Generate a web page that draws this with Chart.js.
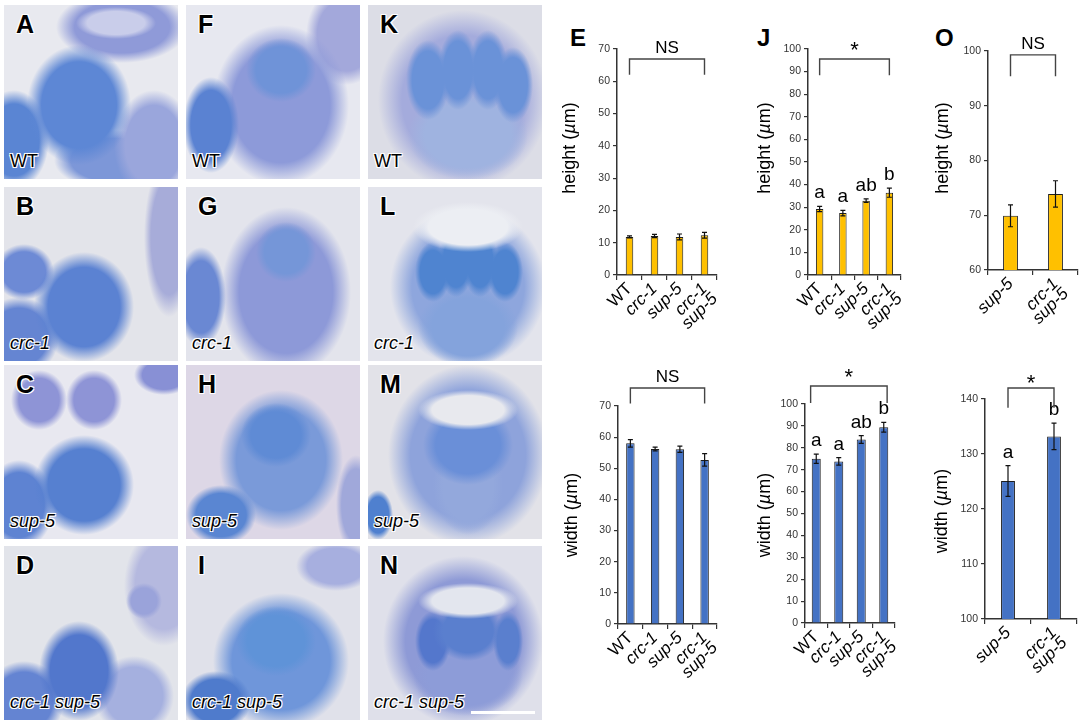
<!DOCTYPE html>
<html><head><meta charset="utf-8">
<script src="https://cdn.jsdelivr.net/npm/chart.js@4.4.0/dist/chart.umd.min.js"></script>
<style>
html,body{margin:0;padding:0;background:#fff;width:1084px;height:725px;overflow:hidden;font-family:"Liberation Sans",Arial,sans-serif;}
.panel{position:absolute;width:174px;height:174px;overflow:hidden;}
.plab{position:absolute;left:12px;top:7px;font-weight:bold;font-size:25px;line-height:1;color:#000;
 text-shadow:0 0 2px #fff,1px 1px 0 #fff,-1px -1px 0 #fff,1px -1px 0 #fff,-1px 1px 0 #fff;}
.glab{position:absolute;left:6px;top:147px;font-size:18px;line-height:1;color:#000;white-space:nowrap;
 text-shadow:0 0 2px #fff,1px 1px 0 #fff,-1px -1px 0 #fff,1px -1px 0 #fff,-1px 1px 0 #fff;}
.glab i{font-style:italic;}
.fig{position:absolute;font-weight:bold;font-size:24px;line-height:1;color:#000;}
canvas{position:absolute;}
.sbar{position:absolute;left:471px;top:711px;width:64px;height:3px;background:#fff;}
</style></head>
<body>
<div id="panels"></div>
<div class="fig" style="left:570px;top:26px">E</div>
<div class="fig" style="left:757px;top:26px">J</div>
<div class="fig" style="left:935px;top:26px">O</div>
<canvas id="cEh"></canvas><canvas id="cJh"></canvas><canvas id="cOh"></canvas>
<canvas id="cEw"></canvas><canvas id="cJw"></canvas><canvas id="cOw"></canvas>
<div class="sbar"></div>
<script>
// ---------- data ----------
const genotypes4 = ['WT', 'crc-1', 'sup-5', ['crc-1', 'sup-5']];
const genotypes2 = ['sup-5', ['crc-1', 'sup-5']];

const heightE = [11.8, 12.1, 11.8, 12.3];
const heightEErr = [0.3, 0.5, 0.9, 0.9];
const widthE = [58.0, 56.2, 56.1, 52.7];
const widthEErr = [1.2, 0.6, 1.0, 2.0];

const heightJ = [29.2, 27.4, 32.9, 36.4];
const heightJErr = [1.2, 1.2, 0.8, 2.0];
const widthJ = [75.0, 73.8, 83.8, 89.4];
const widthJErr = [2.1, 1.7, 1.8, 2.2];

const heightO = [69.9, 73.9];
const heightOErr = [2.0, 2.4];
const widthO = [125.1, 133.2];
const widthOErr = [2.8, 2.4];

const lettersJ = ['a', 'a', 'ab', 'b'];
const lettersO = ['a', 'b'];

const yTicksE = [0, 70];
const yTicksJ = [0, 100];
const yTicksOh = [60, 100];
const yTicksOw = [100, 140];

// significance brackets: [label, fromIndex, toIndex, topValue, endValue]
const sigEh = ['NS', 0, 3, 66.9, 62];
const sigJh = ['*', 0, 3, 95.6, 88.4];
const sigOh = ['NS', 0, 1, 99.3, 95.4];
const sigEw = ['NS', 0, 3, 75.8, 70.8];
const sigJw = ['*', -0.25, 3.15, 108.2, 100.5];
const sigOw = ['*', 0, 1, 142, 138.4];

// ---------- image panels (decorative) ----------
const FONT = '"Liberation Sans", Arial, sans-serif';
const panelDefs = [
 ['A','WT',4,5,'#e8e9ef',[[110,155,60,30,'#7d97d8'],[118,22,66,36,'#8f9ad8'],[150,140,40,55,'#9aa6dc'],[10,135,35,50,'#5a85d3'],[75,100,52,60,'#5d87d5']],[[112,18,40,16,'#c9cdea']]],
 ['B','crc-1',4,187,'#e3e4ea',[[165,50,25,80,'#a7acd9'],[15,150,40,40,'#6585d2'],[20,85,30,28,'#6d8ad5'],[80,120,50,55,'#5b82d2']],[]],
 ['C','sup-5',4,365,'#e8e8f0',[[160,10,30,20,'#8890d5'],[35,35,28,30,'#8e94d6'],[90,35,28,30,'#8e94d6'],[15,140,35,45,'#5e83d2'],[80,120,50,50,'#5680d0']],[]],
 ['D','crc-1 sup-5',4,546,'#e2e4ea',[[160,40,40,60,'#b5b9df'],[130,150,40,40,'#a5b0df'],[140,55,18,18,'#9aa3da'],[20,155,40,40,'#6484d2'],[75,125,40,50,'#5277cc']],[]],
 ['F','WT',186,5,'#e7e8f0',[[160,30,40,50,'#a3a8db'],[95,100,68,80,'#8d9ad9'],[25,120,28,48,'#5a82d2'],[95,65,35,32,'#6f93d8']],[]],
 ['G','crc-1',186,187,'#e3e4ec',[[100,105,65,85,'#8d99d8'],[15,110,25,50,'#6a88d3'],[100,65,30,30,'#7596d8']],[]],
 ['H','sup-5',186,365,'#ddd7e6',[[170,140,20,50,'#a0a8da'],[95,95,62,70,'#7a9ad9'],[35,150,35,30,'#5a86d2'],[90,70,35,32,'#5f8bd5']],[]],
 ['I','crc-1 sup-5',186,546,'#e0e1ea',[[150,20,40,25,'#a7afdf'],[95,115,68,68,'#6f96da'],[30,155,35,30,'#4f7bcc'],[90,95,40,35,'#5f93d8']],[]],
 ['K','WT',368,5,'#dcdde6',[[95,95,85,90,'#a4abdc'],[100,130,60,45,'#9fb3e0'],[60,75,22,40,'#6a92d8'],[90,65,20,40,'#6a92d8'],[120,65,20,40,'#6a92d8'],[145,80,20,38,'#6a92d8']],[]],
 ['L','crc-1',368,187,'#e3e4ec',[[100,100,78,80,'#8ea6dd'],[100,140,50,40,'#84a3dc'],[65,85,18,30,'#4f84d0'],[88,75,18,35,'#4f84d0'],[112,75,18,35,'#4f84d0'],[137,85,18,30,'#4f84d0']],[[100,40,55,25,'#eceef3']]],
 ['M','sup-5',368,365,'#e2e2e8',[[100,90,80,90,'#8ea3db'],[100,120,35,50,'#93a8dc'],[100,80,45,40,'#6a8fd8'],[10,150,15,25,'#4f80cf']],[[100,45,50,20,'#e8e9ee']]],
 ['N','crc-1 sup-5',368,546,'#dfe0ea',[[95,95,80,85,'#8e9ad6'],[100,130,55,40,'#8d9cd8'],[65,95,18,30,'#5477cc'],[100,85,35,30,'#5a7fce'],[140,95,15,30,'#5a7fce']],[[100,55,50,18,'#e3e6ee']]]
];
function blob(b){return `radial-gradient(${b[2]}px ${b[3]}px at ${b[0]}px ${b[1]}px, ${b[4]} 0%, ${b[4]} 72%, transparent 100%)`;}
const host = document.getElementById('panels');
panelDefs.forEach(p=>{
  const d=document.createElement('div'); d.className='panel';
  d.style.left=p[2]+'px'; d.style.top=p[3]+'px';
  const layers = p[6].slice().reverse().map(blob).concat(p[5].slice().reverse().map(blob));
  d.style.background = layers.join(',') + ',' + p[4];
  const l=document.createElement('div'); l.className='plab'; l.textContent=p[0]; d.appendChild(l);
  const g=document.createElement('div'); g.className='glab';
  if(p[1]==='WT'){g.textContent='WT';} else {g.innerHTML='<i>'+p[1]+'</i>';}
  d.appendChild(g); host.appendChild(d);
});

// ---------- charts ----------
const extras = {
  id:'extras',
  afterDatasetsDraw(chart, args, o){
    const ctx=chart.ctx, xs=chart.scales.x, ys=chart.scales.y;
    const meta=chart.getDatasetMeta(0);
    ctx.save();
    meta.data.forEach((bar,i)=>{
      const v=o.vals[i], e=o.errs[i];
      const x=bar.x, y1=ys.getPixelForValue(v+e), y2=ys.getPixelForValue(v-e);
      ctx.strokeStyle='#111'; ctx.lineWidth=1.2;
      ctx.beginPath(); ctx.moveTo(x,y1); ctx.lineTo(x,y2);
      ctx.moveTo(x-2.5,y1); ctx.lineTo(x+2.5,y1);
      ctx.moveTo(x-2.5,y2); ctx.lineTo(x+2.5,y2); ctx.stroke();
      if(o.letters){
        ctx.fillStyle='#000'; ctx.font='19px '+FONT; ctx.textAlign='center'; ctx.textBaseline='alphabetic';
        ctx.fillText(o.letters[i], x, y1-o.letterGap);
      }
    });
    const s=o.sig;
    const xa=xs.getPixelForValue(s[1]), xb=xs.getPixelForValue(s[2]);
    const yt=ys.getPixelForValue(s[3]), ye=ys.getPixelForValue(s[4]);
    ctx.strokeStyle='#444'; ctx.lineWidth=1.4;
    ctx.beginPath(); ctx.moveTo(xa,ye); ctx.lineTo(xa,yt); ctx.lineTo(xb,yt); ctx.lineTo(xb,ye); ctx.stroke();
    ctx.fillStyle='#000'; ctx.textAlign='center'; ctx.textBaseline='alphabetic';
    if(s[0]==='*'){ ctx.font='22px '+FONT; ctx.fillText('*',(xa+xb)/2, yt+o.starGap); }
    else { ctx.font='17px '+FONT; ctx.fillText(s[0],(xa+xb)/2, yt-6); }
    // y title with italic mu
    ctx.translate(o.tx, o.ty); ctx.rotate(-Math.PI/2);
    const parts=[[o.title+' (','normal'],['\u00b5','italic'],['m)','normal']];
    let total=0; const ws=parts.map(p=>{ctx.font=p[1]+' 18px '+FONT; const w=ctx.measureText(p[0]).width; total+=w; return w;});
    let xx=-total/2; ctx.textAlign='left'; ctx.textBaseline='middle';
    parts.forEach((p,i)=>{ctx.font=p[1]+' 18px '+FONT; ctx.fillText(p[0],xx,0); xx+=ws[i];});
    ctx.restore();
  }
};

function makeChart(id, box, area, cats, vals, errs, color, yr, sig, title, tpos, letters, barPct, starGap){
  const cv=document.getElementById(id);
  cv.width=box[2]; cv.height=box[3];
  cv.style.left=box[0]+'px'; cv.style.top=box[1]+'px';
  cv.style.width=box[2]+'px'; cv.style.height=box[3]+'px';
  const yW=area[0]-box[0], padTop=area[2]-box[1], padRight=box[0]+box[2]-area[1], xH=box[1]+box[3]-area[3];
  return new Chart(cv, {
    type:'bar',
    data:{labels:cats, datasets:[{data:vals, backgroundColor:color, borderColor:'#1e1e1e', borderWidth:1, barPercentage:barPct, categoryPercentage:1}]},
    options:{
      responsive:false, animation:false, devicePixelRatio:1,
      layout:{padding:{left:0, top:padTop, right:padRight, bottom:0}},
      plugins:{legend:{display:false}, tooltip:{enabled:false},
        extras:{vals, errs, letters, letterGap:8, sig, title, tx:tpos[0]-box[0], ty:tpos[1]-box[1], starGap:starGap}},
      scales:{
        x:{
          grid:{display:true, drawOnChartArea:false, drawTicks:true, tickLength:5, color:'#333', lineWidth:1.2, offset:true},
          border:{color:'#333', width:1.5},
          ticks:{autoSkip:false, maxRotation:45, minRotation:45, color:'#000', padding:1,
            font:(c)=>({family:FONT, size:17, style:(c.tick && c.tick.label==='WT')?'normal':'italic', lineHeight:0.85})},
          afterFit(s){ s.height=xH; s.paddingLeft=0; s.paddingRight=0; }
        },
        y:{
          min:yr[0], max:yr[1],
          grid:{display:true, drawOnChartArea:false, tickLength:4, color:'#333', lineWidth:1.2},
          border:{color:'#333', width:1.5},
          ticks:{stepSize:10, color:'#333', padding:3, font:{family:FONT, size:10.5}},
          afterFit(s){ s.width=yW; s.paddingTop=0; s.paddingBottom=0; }
        }
      }
    },
    plugins:[extras]
  });
}

const YEL='#FFC000', BLU='#4472C4';
makeChart('cEh',[548,0,192,360],[617,717,49,275],genotypes4,heightE,heightEErr,YEL,yTicksE,sigEh,'height',[570,148],null,0.3,-2);
makeChart('cJh',[738,0,187,360],[808,901,49,275],genotypes4,heightJ,heightJErr,YEL,yTicksJ,sigJh,'height',[765,148],lettersJ,0.32,-2);
makeChart('cOh',[925,0,159,360],[988,1078,51,270],genotypes2,heightO,heightOErr,YEL,yTicksOh,sigOh,'height',[943,148],null,0.33,-2);
makeChart('cEw',[548,362,192,363],[618,717,406,624],genotypes4,widthE,widthEErr,BLU,yTicksE,sigEw,'width',[572,515],null,0.34,-2);
makeChart('cJw',[738,362,187,363],[805,895,404,623],genotypes4,widthJ,widthJErr,BLU,yTicksJ,sigJw,'width',[765,515],lettersJ,0.4,-2);
makeChart('cOw',[925,362,159,363],[985,1077,399,619],genotypes2,widthO,widthOErr,BLU,yTicksOw,sigOw,'width',[942,511],lettersO,0.3,2);
</script>
</body></html>
